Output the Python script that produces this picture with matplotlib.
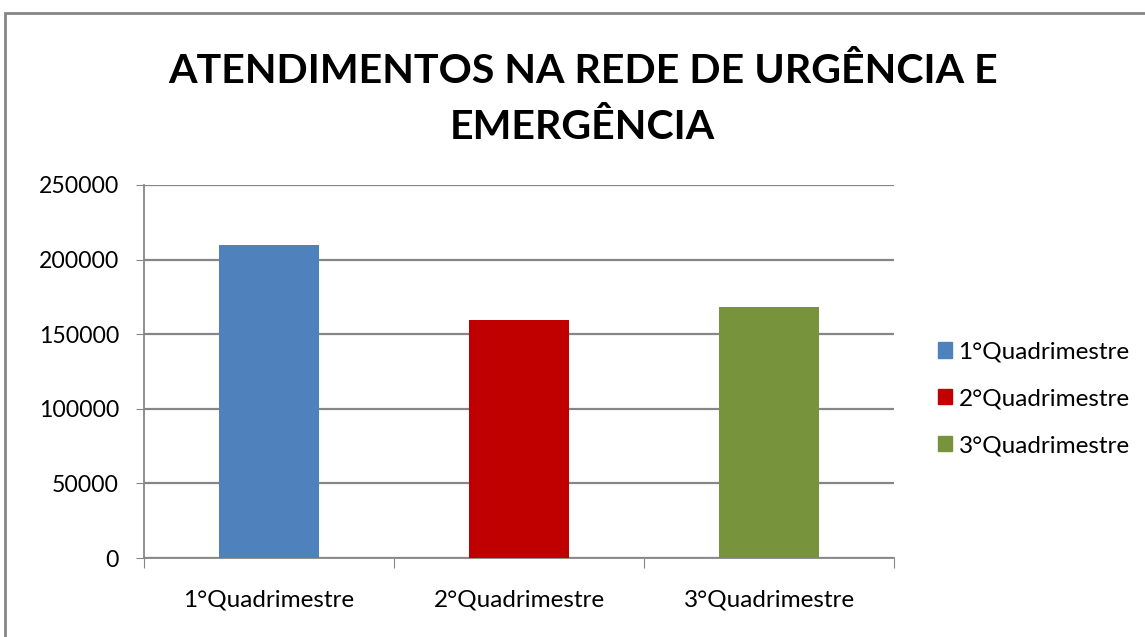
import matplotlib
matplotlib.use("Agg")
import matplotlib.pyplot as plt
from matplotlib.patches import Rectangle, Patch

categorias = ["1°Quadrimestre", "2°Quadrimestre", "3°Quadrimestre"]
atendimentos = [209500, 159500, 168500]
cores = ["#4F81BD", "#C00000", "#77933C"]
y_ticks = [0, 50000, 100000, 150000, 200000, 250000]

plt.rcParams['font.family'] = ['Lato', 'DejaVu Sans']

fig = plt.figure(figsize=(11.45, 6.37), dpi=100)
ax = fig.add_axes([0.1258, 0.124, 0.655, 0.5856])

x = range(len(categorias))
ax.bar(x, atendimentos, width=0.4, color=cores, zorder=3)

ax.set_xlim(-0.5, 2.5)
ax.set_ylim(0, 250000)
ax.set_yticks(y_ticks)
ax.set_yticklabels([str(v) for v in y_ticks], fontsize=16.6)
ax.set_xticks([-0.5, 0.5, 1.5, 2.5])
ax.set_xticklabels([])
ax.set_xticks(list(x), minor=True)
ax.set_xticklabels(categorias, minor=True, fontsize=17.5)
ax.tick_params(axis='x', which='minor', length=0, pad=23)
ax.tick_params(axis='x', which='major', length=7, color='#868686', direction='out')
ax.tick_params(axis='y', length=6, color='#868686', direction='out', pad=12)

ax.grid(axis='y', color='#868686', linewidth=1.6, zorder=0)
for s in ['top', 'right']:
    ax.spines[s].set_visible(False)
for s in ['left', 'bottom']:
    ax.spines[s].set_color('#868686')
    ax.spines[s].set_linewidth(1.3)

handles = [Patch(color=c, label=l) for c, l in zip(cores, categorias)]
fig.legend(handles=handles, loc='center left', bbox_to_anchor=(0.8, 0.374),
           frameon=False, fontsize=17.5, handlelength=0.6, handleheight=0.6,
           handletextpad=0.25, labelspacing=1.06)

fig.text(0.509, 0.888, "ATENDIMENTOS NA REDE DE URGÊNCIA E", ha='center', va='center',
         fontsize=29.6, fontweight='bold')
fig.text(0.509, 0.8, "EMERGÊNCIA", ha='center', va='center',
         fontsize=29.6, fontweight='bold')

fig.patches.append(Rectangle((0.0044, -0.05), 1.1, 1.03, transform=fig.transFigure,
                             fill=False, edgecolor='#868686', linewidth=2))

fig.savefig("out.png", dpi=100)
